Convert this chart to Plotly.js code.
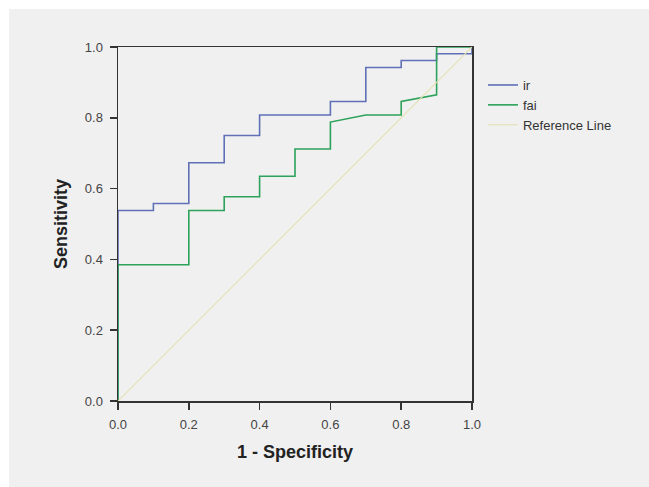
<!DOCTYPE html>
<html>
<head>
<meta charset="utf-8">
<script src="https://cdn.plot.ly/plotly-3.0.1.min.js"></script>
<style>
  html, body { margin: 0; padding: 0; background: #ffffff; }
  #chart { width: 649px; height: 487px; }
</style>
</head>
<body>
<div id="chart"></div>
<script>
// ROC coordinates (1 - Specificity, Sensitivity)
const irFpr  = [0, 0, 0.1, 0.1, 0.2, 0.2, 0.3, 0.3, 0.4, 0.4, 0.6, 0.6, 0.7, 0.7, 0.8, 0.8, 0.9, 0.9, 1.0, 1.0];
const irTpr  = [0, 0.538, 0.538, 0.558, 0.558, 0.673, 0.673, 0.750, 0.750, 0.808, 0.808, 0.846, 0.846, 0.942, 0.942, 0.962, 0.962, 0.981, 0.981, 1.0];

const faiFpr = [0, 0, 0.2, 0.2, 0.3, 0.3, 0.4, 0.4, 0.5, 0.5, 0.6, 0.6, 0.7, 0.8, 0.8, 0.9, 0.9, 1.0];
const faiTpr = [0, 0.385, 0.385, 0.538, 0.538, 0.577, 0.577, 0.635, 0.635, 0.712, 0.712, 0.788, 0.808, 0.808, 0.846, 0.865, 1.0, 1.0];

const refX = [0, 1];
const refY = [0, 1];

const tickVals = [0, 0.2, 0.4, 0.6, 0.8, 1.0];
const tickText = ['0.0', '0.2', '0.4', '0.6', '0.8', '1.0'];

const traces = [
  { x: irFpr, y: irTpr, name: 'ir', mode: 'lines', type: 'scatter',
    line: { color: '#5f70b6', width: 1.6 } },
  { x: faiFpr, y: faiTpr, name: 'fai', mode: 'lines', type: 'scatter',
    line: { color: '#2ca25a', width: 1.6 } },
  { x: refX, y: refY, name: 'Reference Line', mode: 'lines', type: 'scatter',
    line: { color: '#e6e0b4', width: 1.2 } }
];

const axisCommon = {
  range: [0, 1],
  tickvals: tickVals,
  ticktext: tickText,
  ticks: 'outside',
  ticklen: 7,
  tickwidth: 1.5,
  tickcolor: '#333333',
  ticklabelstandoff: 4,
  showline: true,
  linecolor: '#333333',
  linewidth: 1.5,
  mirror: true,
  showgrid: false,
  zeroline: false,
  fixedrange: true,
  tickfont: { family: 'Liberation Sans, Arial, sans-serif', size: 13, color: '#444444' }
};

const layout = {
  width: 649,
  height: 487,
  margin: { l: 118, r: 177, t: 47, b: 86, pad: 0 },
  paper_bgcolor: '#ffffff',
  plot_bgcolor: 'rgba(0,0,0,0)',
  showlegend: true,
  legend: {
    x: 1.031, y: 0.935, xanchor: 'left', yanchor: 'top',
    bgcolor: 'rgba(0,0,0,0)',
    font: { family: 'Liberation Sans, Arial, sans-serif', size: 13, color: '#333333' }
  },
  xaxis: Object.assign({}, axisCommon, {
    title: { text: '1 - Specificity', standoff: 14,
      font: { family: 'Liberation Sans, Arial, sans-serif', size: 18, color: '#222222', weight: 'bold' } }
  }),
  yaxis: Object.assign({}, axisCommon, {
    title: { text: 'Sensitivity', standoff: 12,
      font: { family: 'Liberation Sans, Arial, sans-serif', size: 18, color: '#222222', weight: 'bold' } }
  }),
  shapes: [
    { type: 'rect', xref: 'paper', yref: 'paper', layer: 'below',
      x0: (9 - 118) / 354, x1: (649 - 118) / 354,
      y0: (401 - 487) / 354, y1: (401 - 9) / 354,
      fillcolor: '#f0f0f0', line: { width: 0 } }
  ]
};

Plotly.newPlot('chart', traces, layout, { displayModeBar: false, staticPlot: true });
</script>
</body>
</html>
